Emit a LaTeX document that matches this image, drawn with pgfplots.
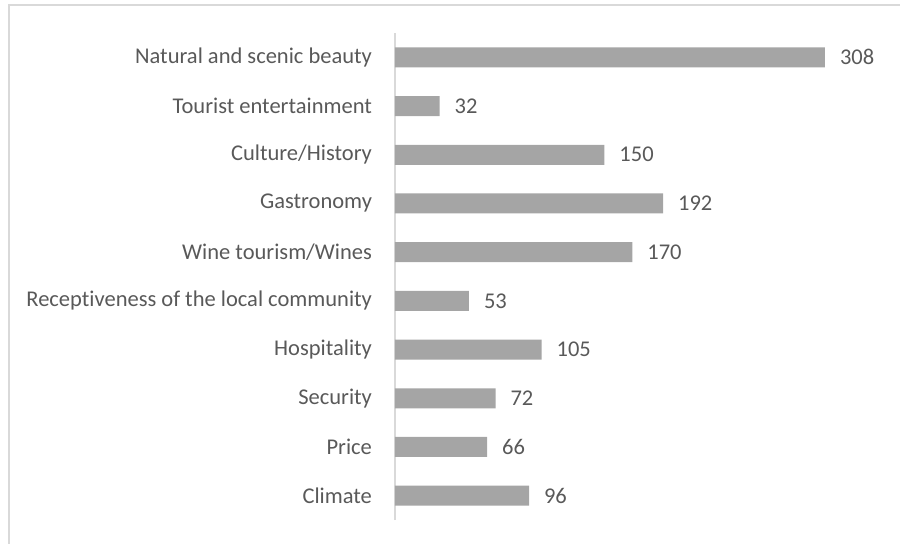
\documentclass[border=0pt]{standalone}
\usepackage{fontspec}
\setmainfont[Ligatures={NoCommon}]{Carlito}
\usepackage{pgfplots}
\pgfplotsset{compat=1.18}
\definecolor{bargray}{HTML}{A5A5A5}
\definecolor{txtgray}{HTML}{595959}
\definecolor{framegray}{HTML}{D9D9D9}
\begin{document}
\begin{tikzpicture}[x=1pt,y=1pt]
\useasboundingbox (0,0) rectangle (450,271.5);
\draw[framegray, line width=0.8pt] (4.5,-2) -- (4.5,269) -- (452,269);
\begin{axis}[
  at={(197.5pt,11.5pt)}, anchor=south west,
  scale only axis,
  width=244.3pt, height=243.5pt,
  xbar, bar width=10pt,
  xmin=0, xmax=350,
  ymin=0.5, ymax=10.5,
  axis x line=none,
  axis y line*=left,
  y axis line style={framegray, line width=0.8pt, -},
  ytick={1,...,10},
  yticklabels={Climate,Price,Security,Hospitality,Receptiveness of the local community,Wine tourism/Wines,Gastronomy,Culture/History,Tourist entertainment,Natural and scenic beauty},
  major tick length=0pt,
  /pgf/number format/assume math mode=true,
  yticklabel style={font=\fontsize{11.25}{13}\selectfont, text=txtgray, xshift=-8pt},
  nodes near coords,
  nodes near coords style={font=\fontsize{11.25}{13}\selectfont, text=txtgray, anchor=west, xshift=4pt, /pgf/number format/assume math mode=true},
  point meta=x,
]
\addplot[fill=bargray, draw=none] coordinates {
 (96,1) (66,2) (72,3) (105,4) (53,5) (170,6) (192,7) (150,8) (32,9) (308,10)
};
\end{axis}
\end{tikzpicture}
\end{document}
